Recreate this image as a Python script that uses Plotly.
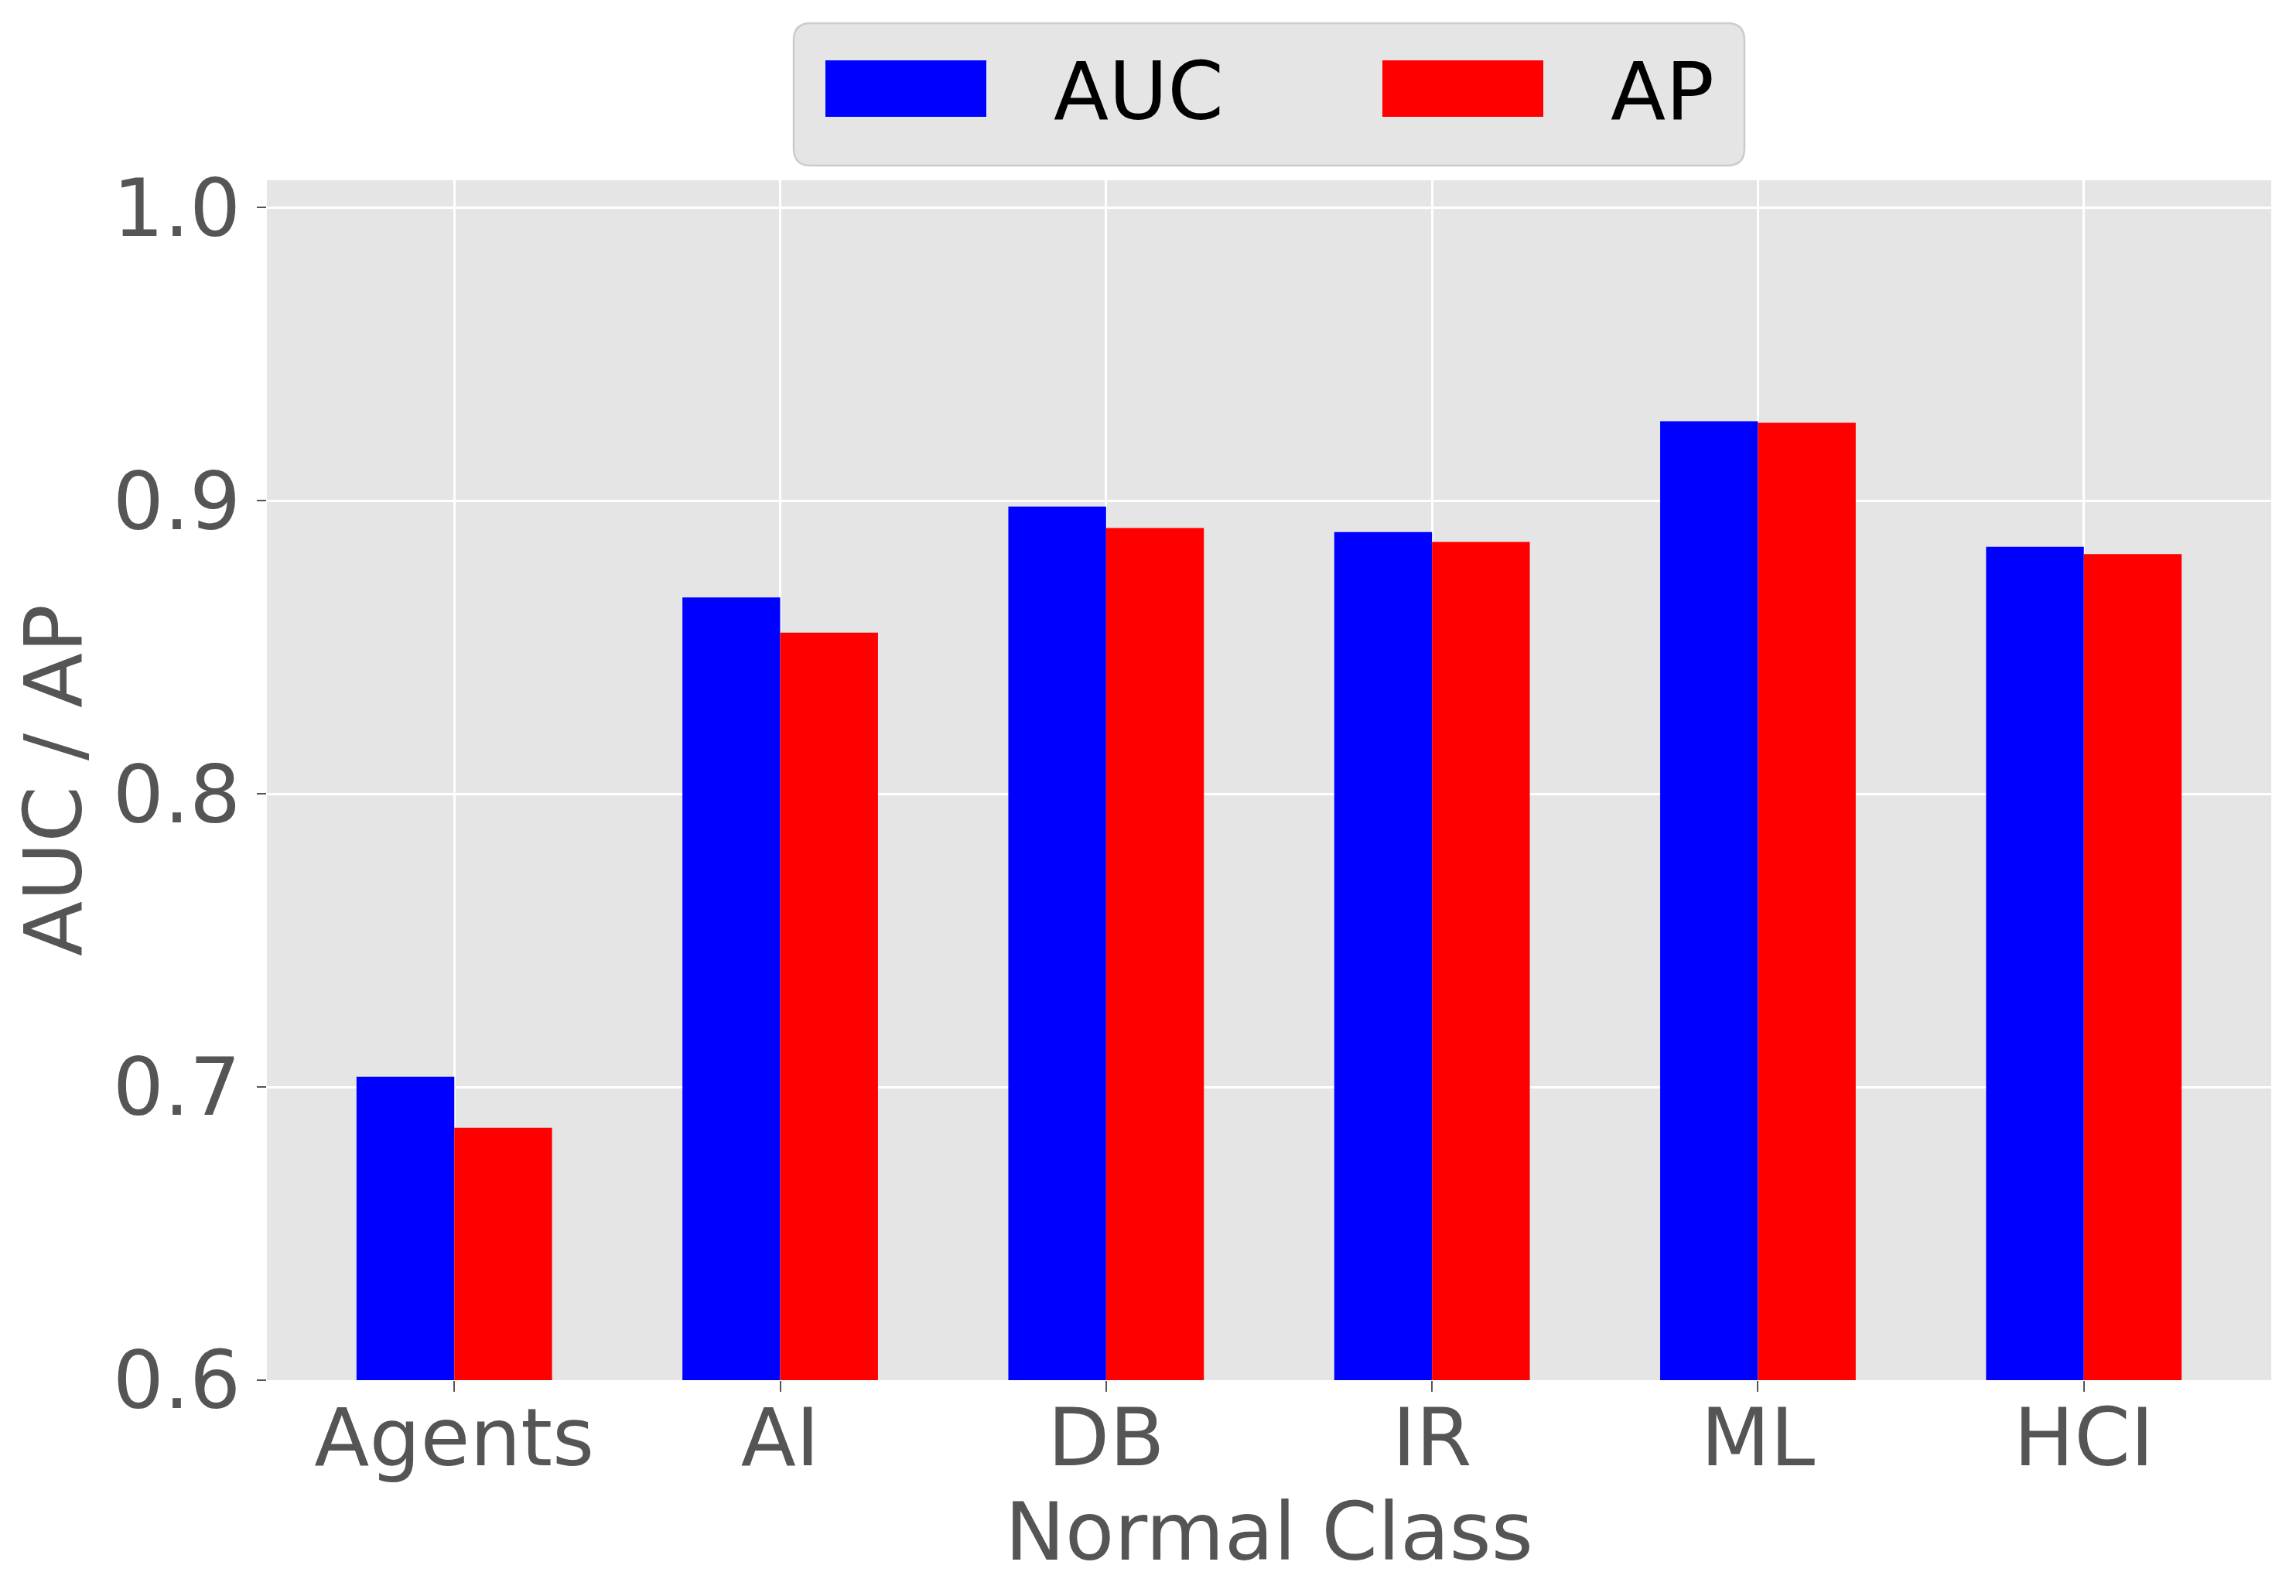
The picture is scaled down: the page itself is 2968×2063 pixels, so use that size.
import plotly.graph_objects as go

# data
classes = ['Agents', 'AI', 'DB', 'IR', 'ML', 'HCI']
series_names = ['AUC', 'AP']
auc = [0.7035, 0.867, 0.898, 0.8893, 0.9271, 0.8843]
ap = [0.6861, 0.855, 0.8907, 0.8859, 0.9266, 0.8818]
y_ticks = [0.6, 0.7, 0.8, 0.9, 1.0]
colors = ['#0000ff', '#ff0000']

W, H = 2968, 2063
L, R, T, B = 345, 32, 233, 279
O = 8  # default body margin of the html page
FONT = 'DejaVu Sans'
GREY = '#555555'


def px(x):
    return (x - L) / (W - L - R)


def py(y):
    return (H - B - y) / (H - T - B)


def rounded_rect(x0, y0, x1, y1, r):
    # pixel coords -> paper path with rounded corners
    pts = [
        ('M', [(x0 + r, y0)]),
        ('L', [(x1 - r, y0)]),
        ('Q', [(x1, y0), (x1, y0 + r)]),
        ('L', [(x1, y1 - r)]),
        ('Q', [(x1, y1), (x1 - r, y1)]),
        ('L', [(x0 + r, y1)]),
        ('Q', [(x0, y1), (x0, y1 - r)]),
        ('L', [(x0, y0 + r)]),
        ('Q', [(x0, y0), (x0 + r, y0)]),
    ]
    s = ''
    for cmd, ps in pts:
        s += cmd + ' '.join('%.5f,%.5f' % (px(a), py(b)) for a, b in ps) + ' '
    return s + 'Z'


fig = go.Figure()
for name, vals, c in zip(series_names, [auc, ap], colors):
    fig.add_trace(go.Bar(x=classes, y=vals, name=name, marker_color=c,
                         marker_line_width=0, showlegend=False))

fig.update_layout(
    width=W - 2 * O, height=H - 2 * O,
    margin=dict(l=L - O, r=R - O, t=T - O, b=B - O),
    barmode='group', bargap=0.4, bargroupgap=0,
    plot_bgcolor='#E5E5E5', paper_bgcolor='white',
    font=dict(family=FONT, size=104, color=GREY),
)

fig.update_xaxes(
    range=[-0.575, 5.575], showgrid=True, gridcolor='white', gridwidth=2.5,
    ticks='outside', ticklen=14, tickwidth=2, tickcolor=GREY,
    tickfont=dict(size=104, color=GREY), ticklabelstandoff=-30,
    title=dict(text='Normal Class', font=dict(size=104, color=GREY), standoff=0),
    zeroline=False, showline=False,
)
fig.update_yaxes(
    range=[0.6, 1.0093], tickvals=y_ticks, tickformat='.1f',
    showgrid=True, gridcolor='white', gridwidth=2.5,
    ticks='outside', ticklen=12, tickwidth=2, tickcolor=GREY,
    tickfont=dict(size=104, color=GREY),
    title=dict(text='AUC / AP', font=dict(size=104, color=GREY), standoff=8),
    zeroline=False, showline=False,
)

# legend box drawn by hand (matplotlib-style big patches)
fig.add_shape(type='path', xref='paper', yref='paper',
              path=rounded_rect(1026, 30, 2255, 214, 22),
              fillcolor='#E5E5E5', line=dict(color='#CCCCCC', width=2.5))
patch_x = [1067, 1787]
text_x = [1360, 2080]
for name, c, x0, tx in zip(series_names, colors, patch_x, text_x):
    fig.add_shape(type='rect', xref='paper', yref='paper',
                  x0=px(x0), x1=px(x0 + 208), y0=py(151), y1=py(78),
                  fillcolor=c, line=dict(width=0))
    fig.add_annotation(text=name, xref='paper', yref='paper',
                       x=px(tx), y=py(118), xanchor='left', yanchor='middle',
                       showarrow=False, font=dict(family=FONT, size=104, color='black'))

fig.write_html("out.html")
